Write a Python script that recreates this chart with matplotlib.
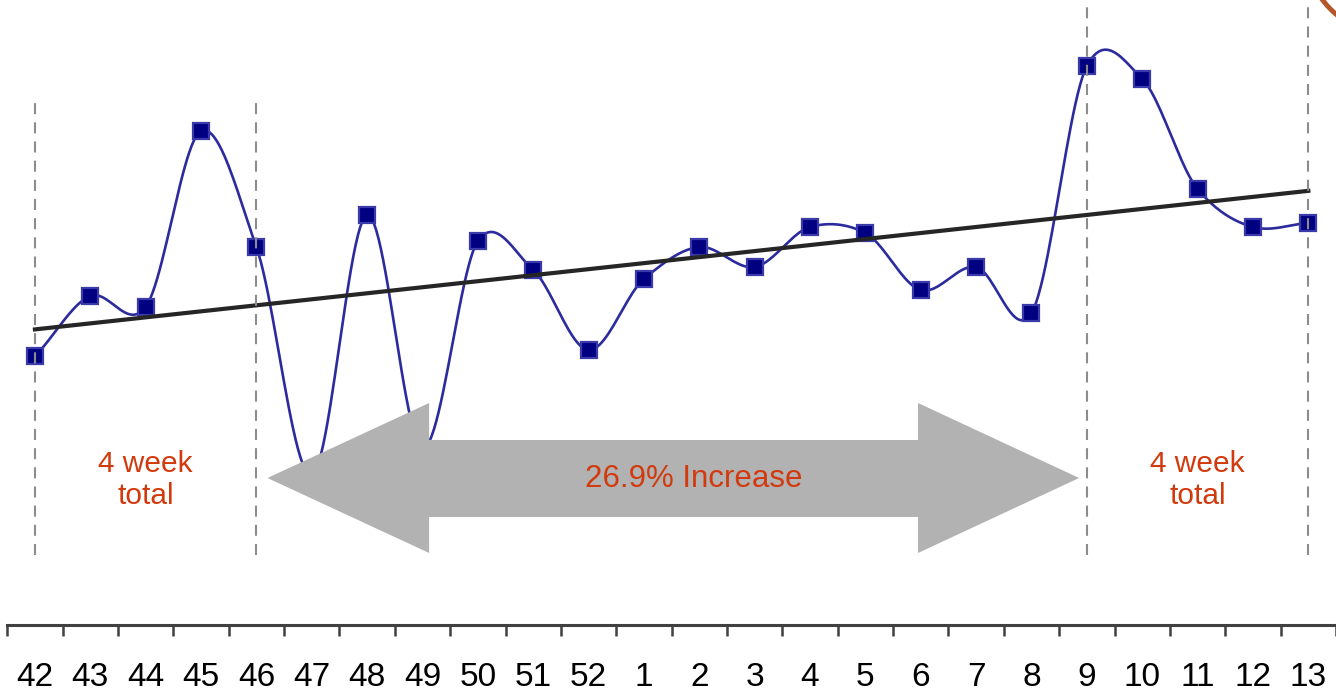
import matplotlib
matplotlib.use('Agg')
import matplotlib.pyplot as plt
import numpy as np
from matplotlib.patches import Polygon, Circle

plt.rcParams['font.family'] = ['Liberation Sans', 'DejaVu Sans']

# weekly values (no y scale shown, arbitrary units)
weeks = ['42', '43', '44', '45', '46', '47', '48', '49', '50', '51', '52',
         '1', '2', '3', '4', '5', '6', '7', '8', '9', '10', '11', '12', '13']
values = [269, 329, 318, 494, 378, 150, 410, 177, 384, 355, 275,
          346, 378, 358, 398, 392, 335, 358, 312, 559, 546, 436, 398, 402]

# period markers (index into weeks) and notes
period_lines = [0, 4, 19, 23]
period_tops = [525, 525, 625, 625]
period_label = '4 week\ntotal'
period_label_x = [2, 21]
change_label = '26.9% Increase'


def smooth(x, y, n=24, f=0.9):
    # catmull-rom through the points, like a spreadsheet "smoothed line"
    x = np.asarray(x, float)
    y = np.asarray(y, float)
    px = np.concatenate([[2 * x[0] - x[1]], x, [2 * x[-1] - x[-2]]])
    py = np.concatenate([[2 * y[0] - y[1]], y, [2 * y[-1] - y[-2]]])
    xs, ys = [], []
    t = np.linspace(0, 1, n, endpoint=False)
    for i in range(1, len(px) - 2):
        p0, p1, p2, p3 = px[i - 1:i + 3]
        q0, q1, q2, q3 = py[i - 1:i + 3]
        c1x, c2x = p1 + (p2 - p0) / 6, p2 - (p3 - p1) / 6
        c1y, c2y = q1 + f * (q2 - q0) / 6, q2 - f * (q3 - q1) / 6
        b0, b1, b2, b3 = (1 - t) ** 3, 3 * t * (1 - t) ** 2, 3 * t ** 2 * (1 - t), t ** 3
        xs.append(b0 * p1 + b1 * c1x + b2 * c2x + b3 * p2)
        ys.append(b0 * q1 + b1 * c1y + b2 * c2y + b3 * q2)
    xs.append([x[-1]])
    ys.append([y[-1]])
    return np.concatenate(xs), np.concatenate(ys)


x = np.arange(len(weeks))

fig = plt.figure(figsize=(13.36, 6.93), dpi=100)
ax = fig.add_axes([0, 68 / 693, 1, 625 / 693])
ax.set_xlim(-35 / 55.48, (1336 - 35) / 55.48)
ax.set_ylim(0, 625)

sx, sy = smooth(x, values)
ax.plot(sx, sy, color='#2B2B9E', lw=1.9, zorder=2)
ax.plot(x, values, ls='none', marker='s', ms=11.5, mfc='#000080',
        mec='#3A3AAA', mew=1.6, zorder=3)

# linear trend
k, b = np.polyfit(x, values, 1)
ax.plot([x[0], x[-1]], [b, k * x[-1] + b], color='#262626', lw=3, zorder=4)

for px_, top in zip(period_lines, period_tops):
    ax.plot([px_, px_], [70, top], color='#8C8C8C', lw=1.5,
            ls=(0, (5.3, 3.9)), zorder=5)

# double arrow between the two periods
arrow = Polygon([(4.2, 147), (7.12, 222), (7.12, 185), (15.95, 185),
                 (15.95, 222), (18.86, 147), (15.95, 72), (15.95, 108),
                 (7.12, 108), (7.12, 72)],
                closed=True, facecolor='#B2B2B2', edgecolor='none', zorder=6)
ax.add_patch(arrow)

ax.text(11.9, 146, change_label, color='#D23A0E', fontsize=22.5,
        ha='center', va='center', zorder=7)
for lx in period_label_x:
    ax.text(lx, 145, period_label, color='#D23A0E', fontsize=21.5,
            ha='center', va='center', linespacing=1.2, zorder=7)

for s in ['top', 'left', 'right']:
    ax.spines[s].set_visible(False)
ax.spines['bottom'].set_color('#404040')
ax.spines['bottom'].set_linewidth(2.2)
ax.spines['bottom'].set_bounds(-0.5, 24)
ax.set_yticks([])
ax.set_xticks(x)
ax.set_xticklabels(weeks, fontsize=24)
ax.set_xticks(np.arange(-0.5, 23.6, 1), minor=True)
ax.tick_params(axis='x', which='major', length=0, pad=27, colors='black')
ax.tick_params(axis='x', which='minor', length=8, width=1.8,
               direction='out', color='#404040')

# piece of a circle peeking in at the top right corner
ring = Circle((14.0, 7.53), 0.98, transform=fig.dpi_scale_trans,
              fill=False, edgecolor='#B5562A', lw=3.5)
fig.patches.append(ring)

fig.savefig('out.png', dpi=100)
